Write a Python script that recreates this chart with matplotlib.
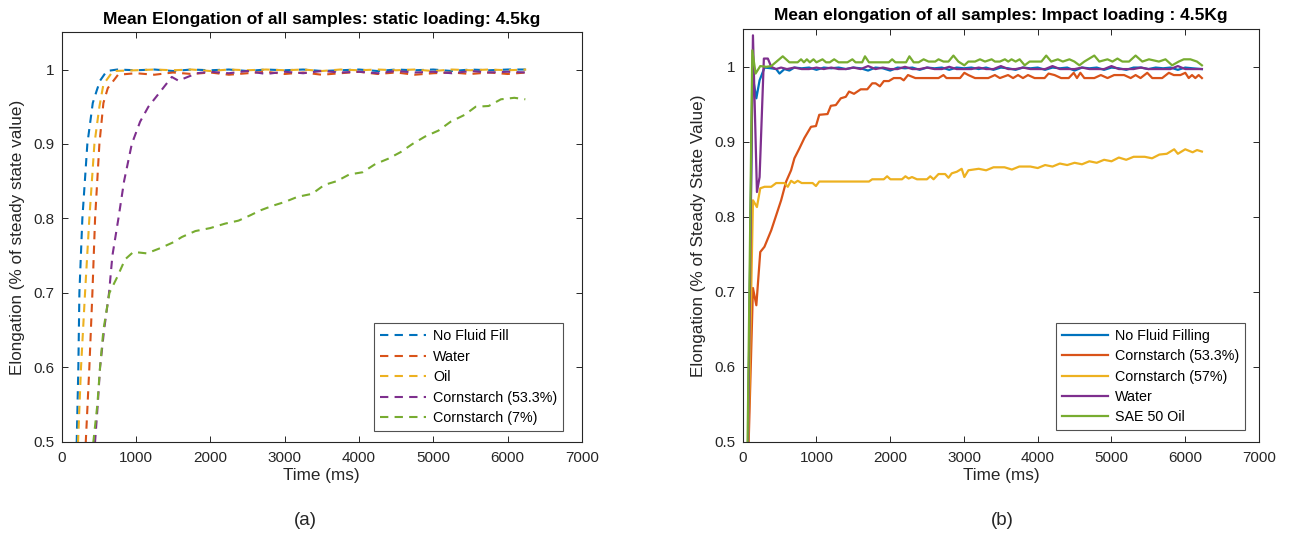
import matplotlib
matplotlib.use("Agg")
import matplotlib.pyplot as plt
from matplotlib.ticker import FormatStrFormatter

plt.rcParams["font.family"] = ["Liberation Sans", "DejaVu Sans"]

# ---- (a) static loading: (time ms, elongation) pairs
static_no_fluid = [(185, 0.40), (204, 0.50), (226, 0.60), (240, 0.70), (280, 0.80), (347, 0.90),
                   (420, 0.955), (474, 0.972), (518, 0.985), (608, 0.998), (750, 1.000), (1000, 0.999),
                   (1250, 1.000), (1500, 0.998), (1750, 1.000), (2000, 0.999), (2250, 1.000), (2500, 0.998),
                   (2750, 1.000), (3000, 0.999), (3250, 1.000), (3500, 0.998), (3750, 0.999), (4000, 1.000),
                   (4250, 0.998), (4500, 1.000), (4750, 0.999), (5000, 1.000), (5250, 0.998), (5500, 1.000),
                   (5750, 0.999), (6000, 1.000), (6250, 1.000)]
static_water = [(300, 0.40), (326, 0.50), (374, 0.60), (415, 0.70), (451, 0.80), (509, 0.90),
                (563, 0.955), (622, 0.975), (760, 0.993), (1000, 0.995), (1250, 0.993), (1500, 0.996),
                (1750, 0.994), (2000, 0.996), (2250, 0.993), (2500, 0.995), (2750, 0.997), (3000, 0.994),
                (3250, 0.996), (3500, 0.993), (3750, 0.995), (4000, 0.997), (4250, 0.994), (4500, 0.996),
                (4750, 0.993), (5000, 0.995), (5250, 0.996), (5500, 0.994), (5750, 0.996), (6000, 0.994),
                (6250, 0.996)]
static_oil = [(200, 0.40), (222, 0.50), (262, 0.60), (316, 0.70), (374, 0.80), (442, 0.90),
              (509, 0.95), (563, 0.98), (693, 0.998), (1000, 0.999), (1250, 1.000), (1500, 0.999),
              (1750, 1.000), (2000, 0.998), (2250, 1.000), (2500, 0.999), (2750, 1.000), (3000, 0.999),
              (3250, 1.000), (3500, 0.998), (3750, 1.000), (4000, 0.999), (4250, 1.000), (4500, 0.999),
              (4750, 1.000), (5000, 0.998), (5250, 1.000), (5500, 0.999), (5750, 1.000), (6000, 0.999),
              (6250, 1.000)]
static_cs533 = [(430, 0.40), (451, 0.50), (487, 0.55), (518, 0.60), (572, 0.65), (639, 0.70),
                (684, 0.75), (765, 0.80), (841, 0.85), (945, 0.90), (1057, 0.93), (1168, 0.95),
                (1326, 0.97), (1483, 0.99), (1572, 0.985), (1820, 0.995), (2000, 0.997), (2250, 0.995),
                (2500, 0.998), (2750, 0.994), (3000, 0.997), (3250, 0.995), (3500, 0.998), (3750, 0.996),
                (4000, 0.997), (4250, 0.995), (4500, 0.998), (4750, 0.996), (5000, 0.997), (5250, 0.995),
                (5500, 0.998), (5750, 0.996), (6000, 0.997), (6250, 0.996)]
static_cs7 = [(400, 0.40), (428, 0.50), (482, 0.55), (518, 0.60), (563, 0.65), (644, 0.70),
              (743, 0.72), (855, 0.745), (967, 0.755), (1147, 0.753), (1327, 0.760), (1505, 0.768),
              (1618, 0.775), (1800, 0.783), (2000, 0.787), (2200, 0.793), (2380, 0.797), (2535, 0.804),
              (2680, 0.811), (2840, 0.817), (3000, 0.822), (3175, 0.829), (3370, 0.833), (3535, 0.845),
              (3700, 0.850), (3870, 0.859), (4050, 0.862), (4220, 0.873), (4390, 0.880), (4560, 0.889),
              (4720, 0.900), (4890, 0.910), (5070, 0.918), (5235, 0.930), (5420, 0.939), (5570, 0.950),
              (5745, 0.951), (5910, 0.960), (6090, 0.962), (6238, 0.960)]

# ---- (b) impact loading
impact_no_fluid = [(67, 0.45), (130, 0.990), (185, 0.958), (229, 0.982), (296, 0.999), (387, 0.998),
                   (454, 0.997), (499, 0.991), (566, 0.997), (633, 0.995), (700, 0.999), (800, 0.998),
                   (900, 0.999), (1000, 0.996), (1100, 0.999), (1200, 0.998), (1300, 0.999), (1400, 0.997),
                   (1500, 0.999), (1600, 0.998), (1700, 0.995), (1800, 0.999), (1900, 0.998), (2000, 0.995),
                   (2100, 0.999), (2200, 0.998), (2300, 0.999), (2400, 0.996), (2500, 0.999), (2600, 0.998),
                   (2700, 0.999), (2800, 0.996), (2900, 0.999), (3000, 0.998), (3100, 0.999), (3200, 0.997),
                   (3300, 0.999), (3400, 0.996), (3500, 0.999), (3600, 0.998), (3700, 0.996), (3800, 0.999),
                   (3900, 0.998), (4000, 0.999), (4100, 0.996), (4200, 0.999), (4300, 0.998), (4400, 0.999),
                   (4500, 0.995), (4600, 0.999), (4700, 0.998), (4800, 0.999), (4900, 0.996), (5000, 0.999),
                   (5100, 0.998), (5200, 0.996), (5300, 0.999), (5400, 0.999), (5500, 0.997), (5600, 0.999),
                   (5700, 0.998), (5800, 0.999), (5900, 0.996), (6000, 0.999), (6100, 0.998), (6226, 0.997)]
impact_cs533 = [(67, 0.45), (139, 0.705), (185, 0.682), (238, 0.753), (295, 0.760), (387, 0.782),
                (454, 0.802), (521, 0.822), (589, 0.847), (656, 0.862), (701, 0.878), (768, 0.891),
                (836, 0.905), (926, 0.920), (993, 0.921), (1038, 0.936), (1150, 0.937), (1195, 0.948),
                (1263, 0.949), (1330, 0.958), (1398, 0.960), (1442, 0.967), (1509, 0.964), (1600, 0.970),
                (1689, 0.970), (1756, 0.978), (1802, 0.978), (1860, 0.974), (1914, 0.981), (1981, 0.981),
                (2048, 0.985), (2139, 0.985), (2183, 0.982), (2241, 0.989), (2341, 0.985), (2500, 0.985),
                (2655, 0.985), (2722, 0.989), (2763, 0.985), (2947, 0.985), (3005, 0.992), (3059, 0.989),
                (3150, 0.985), (3329, 0.985), (3419, 0.989), (3487, 0.985), (3598, 0.989), (3666, 0.985),
                (3733, 0.989), (3800, 0.985), (3868, 0.989), (3958, 0.985), (4093, 0.985), (4147, 0.991),
                (4228, 0.989), (4317, 0.985), (4420, 0.985), (4488, 0.992), (4532, 0.985), (4578, 0.992),
                (4632, 0.985), (4767, 0.985), (4856, 0.989), (4946, 0.985), (5036, 0.989), (5171, 0.989),
                (5260, 0.985), (5327, 0.989), (5394, 0.985), (5485, 0.992), (5553, 0.985), (5687, 0.985),
                (5778, 0.992), (5845, 0.989), (5934, 0.989), (6001, 0.992), (6047, 0.985), (6092, 0.989),
                (6137, 0.985), (6182, 0.989), (6226, 0.985)]
impact_cs57 = [(67, 0.45), (139, 0.822), (193, 0.813), (238, 0.838), (296, 0.840), (387, 0.840),
               (454, 0.845), (566, 0.845), (611, 0.840), (656, 0.848), (701, 0.845), (746, 0.848),
               (800, 0.845), (948, 0.845), (993, 0.841), (1038, 0.847), (1712, 0.847), (1756, 0.850),
               (1913, 0.850), (1958, 0.854), (2003, 0.850), (2160, 0.850), (2206, 0.854), (2250, 0.851),
               (2295, 0.853), (2363, 0.850), (2498, 0.850), (2543, 0.854), (2588, 0.850), (2655, 0.857),
               (2745, 0.857), (2790, 0.852), (2835, 0.858), (2902, 0.860), (2969, 0.864), (3005, 0.853),
               (3060, 0.862), (3200, 0.864), (3300, 0.862), (3400, 0.866), (3550, 0.866), (3650, 0.863),
               (3750, 0.867), (3900, 0.867), (4000, 0.865), (4100, 0.869), (4200, 0.867), (4300, 0.871),
               (4400, 0.869), (4500, 0.872), (4600, 0.870), (4700, 0.874), (4800, 0.872), (4900, 0.876),
               (5000, 0.874), (5100, 0.879), (5200, 0.876), (5300, 0.880), (5450, 0.880), (5550, 0.878),
               (5650, 0.883), (5750, 0.884), (5850, 0.890), (5900, 0.884), (6000, 0.890), (6100, 0.886),
               (6160, 0.889), (6226, 0.887)]
impact_water = [(67, 0.45), (139, 1.042), (193, 0.833), (229, 0.853), (287, 1.011), (341, 1.011),
                (387, 1.000), (450, 0.997), (520, 0.999), (600, 0.997), (700, 0.999), (800, 0.997),
                (900, 0.997), (1000, 0.999), (1100, 0.997), (1200, 0.999), (1300, 0.997), (1400, 0.997),
                (1500, 0.999), (1600, 0.997), (1700, 1.001), (1800, 0.997), (1900, 0.999), (2000, 0.997),
                (2100, 0.997), (2200, 1.000), (2300, 0.997), (2400, 0.997), (2500, 0.999), (2600, 0.997),
                (2700, 0.997), (2800, 1.000), (2900, 0.997), (3000, 0.997), (3100, 0.997), (3200, 0.999),
                (3300, 0.997), (3400, 0.997), (3500, 1.001), (3600, 0.997), (3700, 0.997), (3800, 0.999),
                (3900, 0.997), (4000, 0.997), (4100, 0.997), (4200, 1.001), (4300, 0.997), (4400, 0.997),
                (4500, 0.997), (4600, 0.999), (4700, 0.997), (4800, 0.997), (4900, 0.997), (5000, 1.001),
                (5100, 0.997), (5200, 0.997), (5300, 0.997), (5400, 0.999), (5500, 0.997), (5600, 0.997),
                (5700, 0.997), (5800, 0.997), (5900, 1.001), (6000, 0.997), (6100, 0.997), (6226, 0.997)]
impact_sae50 = [(60, 0.45), (130, 1.022), (175, 0.991), (238, 1.001), (320, 1.000), (387, 1.001),
                (543, 1.014), (633, 1.006), (745, 1.006), (791, 1.010), (830, 1.006), (870, 1.010),
                (910, 1.006), (960, 1.010), (1000, 1.006), (1082, 1.010), (1130, 1.006), (1180, 1.006),
                (1240, 1.010), (1300, 1.006), (1420, 1.006), (1487, 1.010), (1530, 1.006), (1620, 1.006),
                (1658, 1.014), (1712, 1.006), (1981, 1.006), (2026, 1.010), (2070, 1.006), (2215, 1.006),
                (2260, 1.014), (2318, 1.006), (2385, 1.006), (2453, 1.010), (2520, 1.007), (2610, 1.007),
                (2655, 1.010), (2722, 1.007), (2790, 1.007), (2857, 1.015), (2924, 1.007), (3005, 1.002),
                (3059, 1.007), (3150, 1.007), (3217, 1.010), (3285, 1.007), (3375, 1.010), (3420, 1.007),
                (3487, 1.007), (3555, 1.010), (3600, 1.007), (3645, 1.010), (3700, 1.007), (3755, 1.010),
                (3823, 1.002), (3890, 1.007), (4050, 1.007), (4115, 1.015), (4183, 1.007), (4273, 1.010),
                (4340, 1.007), (4430, 1.010), (4497, 1.007), (4565, 1.002), (4632, 1.007), (4767, 1.015),
                (4835, 1.007), (4946, 1.010), (5013, 1.007), (5081, 1.011), (5148, 1.007), (5238, 1.007),
                (5327, 1.015), (5418, 1.007), (5508, 1.010), (5643, 1.007), (5732, 1.010), (5822, 1.002),
                (5912, 1.007), (5980, 1.010), (6070, 1.010), (6159, 1.007), (6226, 1.002)]

static_labels = ["No Fluid Fill", "Water", "Oil", "Cornstarch (53.3%)", "Cornstarch (7%)"]
impact_labels = ["No Fluid Filling", "Cornstarch (53.3%)", "Cornstarch (57%)", "Water", "SAE 50 Oil"]
colors = ["#0072BD", "#D95319", "#EDB120", "#7E2F8E", "#77AC30"]

axcol = "#262626"

fig = plt.figure(figsize=(12.93, 5.41), dpi=100)
ax1 = fig.add_axes([0.0476, 0.1835, 0.4025, 0.7568])
ax2 = fig.add_axes([0.5744, 0.1835, 0.3993, 0.7623])


def style(ax):
    ax.set_xlim(0, 7000)
    ax.set_ylim(0.5, 1.05)
    ax.set_xticks([0, 1000, 2000, 3000, 4000, 5000, 6000, 7000])
    ax.set_yticks([0.5, 0.6, 0.7, 0.8, 0.9, 1.0])
    ax.yaxis.set_major_formatter(FormatStrFormatter("%g"))
    ax.tick_params(direction="in", top=True, right=True, length=4.5, width=0.7,
                   colors=axcol, labelsize=11)
    ax.tick_params(axis="x", pad=7)
    ax.tick_params(axis="y", pad=5)
    for s in ax.spines.values():
        s.set_color(axcol)
        s.set_linewidth(0.8)
    ax.set_xlabel("Time (ms)", fontsize=12.3, color=axcol, labelpad=2)


for series, lab, c in zip([static_no_fluid, static_water, static_oil, static_cs533, static_cs7],
                          static_labels, colors):
    t = [p[0] for p in series]
    v = [p[1] for p in series]
    ax1.plot(t, v, color=c, lw=1.5, dashes=(4, 3), label=lab)

for series, lab, c in zip([impact_no_fluid, impact_cs533, impact_cs57, impact_water, impact_sae50],
                          impact_labels, colors):
    t = [p[0] for p in series]
    v = [p[1] for p in series]
    ax2.plot(t, v, color=c, lw=1.6, label=lab)

style(ax1)
style(ax2)
ax1.set_ylabel("Elongation (% of steady state value)", fontsize=12.3, color=axcol, labelpad=6)
ax2.set_ylabel("Elongation (% of Steady State Value)", fontsize=12.3, color=axcol, labelpad=6)

ax1.set_title("Mean Elongation of all samples: static loading: 4.5kg", pad=6,
              fontsize=12.5, fontweight="bold")
ax2.set_title("Mean elongation of all samples: Impact loading : 4.5Kg", pad=7,
              fontsize=12.5, fontweight="bold")

for ax, bx, by in [(ax1, 0.9635, 0.027), (ax2, 0.973, 0.028)]:
    leg = ax.legend(loc="lower right", bbox_to_anchor=(bx, by), fontsize=10.3, frameon=True,
                    fancybox=False, handlelength=3.2, handletextpad=0.5, borderpad=0.4,
                    labelspacing=0.45, borderaxespad=0)
    leg.get_frame().set_edgecolor(axcol)
    leg.get_frame().set_linewidth(0.8)

fig.text(0.236, 0.037, "(a)", ha="center", va="center", fontsize=13.5, color=axcol)
fig.text(0.775, 0.037, "(b)", ha="center", va="center", fontsize=13.5, color=axcol)

fig.savefig("out.png", dpi=100)
